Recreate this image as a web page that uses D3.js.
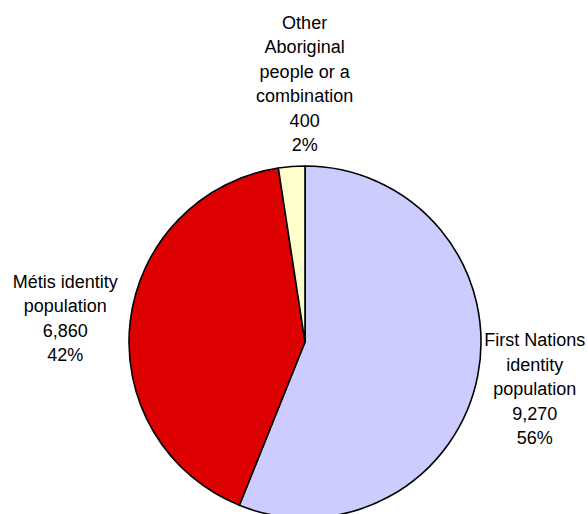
<!DOCTYPE html>
<html>
<head>
<meta charset="utf-8">
<script src="https://cdn.jsdelivr.net/npm/d3@7"></script>
<style>
    body { margin: 0; background: #fff; }
    svg text { font-family: "Liberation Sans", Arial, sans-serif; font-size: 18px; fill: #000; }
</style>
</head>
<body>
<div id="main"></div>
<script>
// data
const categories = ["First Nations identity population", "Métis identity population", "Other Aboriginal people or a combination"];
const values = [9270, 6860, 400];
const labelLines = [
    ["First Nations", "identity", "population"],
    ["Métis identity", "population"],
    ["Other", "Aboriginal", "people or a", "combination"]
];
const colors = ["#ccccff", "#dd0000", "#ffffcc"];

const width = 588;
const height = 514;
const cx = 305;
const cy = 342;
const radius = 176;
const lineH = 24.5;

const total = d3.sum(values);
const fmt = d3.format(",");

const pie = d3.pie().sort(null).value(d => d)(values);
const arc = d3.arc().innerRadius(0).outerRadius(radius);

const svg = d3.create("svg")
    .attr("width", width)
    .attr("height", height)
    .attr("viewBox", [0, 0, width, height]);

const g = svg.append("g").attr("transform", `translate(${cx},${cy})`);

g.selectAll("path")
    .data(pie)
    .join("path")
    .attr("d", arc)
    .attr("fill", (d, i) => colors[i])
    .attr("stroke", "#000")
    .attr("stroke-width", 1.6)
    .attr("stroke-linejoin", "round");

// label placement: point on the rim at the slice's mid angle, then shift the block
const place = [
    {dx: 57, dy: -29},    // first nations
    {dx: -65, dy: -34},   // metis
    {dx: 13, dy: -138}    // other
];

pie.forEach((d, i) => {
    const mid = (d.startAngle + d.endAngle) / 2;
    const px = Math.sin(mid) * radius;
    const py = -Math.cos(mid) * radius;
    const lines = labelLines[i].concat([fmt(values[i]), Math.round(values[i] / total * 100) + "%"]);
    const t = g.append("text")
        .attr("text-anchor", "middle")
        .attr("transform", `translate(${px + place[i].dx},${py + place[i].dy})`);
    lines.forEach((s, j) => {
        t.append("tspan").attr("x", 0).attr("y", j * lineH).text(s);
    });
});

d3.select("#main").append(() => svg.node());
</script>
</body>
</html>
